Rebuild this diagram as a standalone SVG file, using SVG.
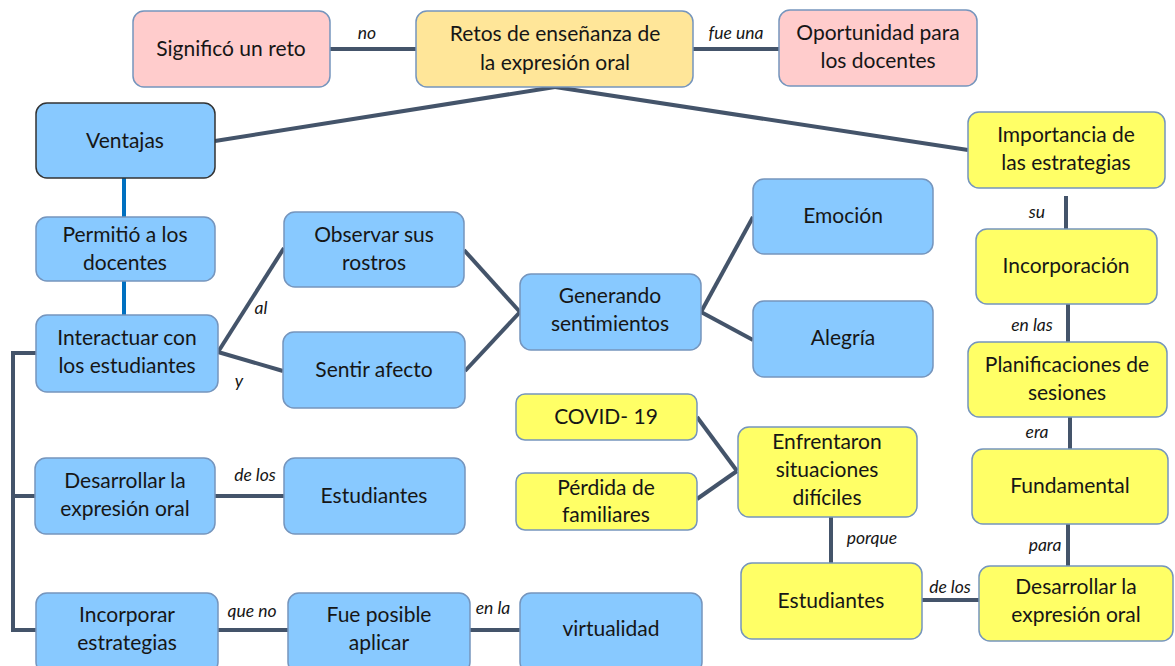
<svg xmlns="http://www.w3.org/2000/svg" width="1175" height="666" viewBox="0 0 1175 666">
<style>
.n rect{stroke:#7595BD;stroke-width:1.5}
.b rect{fill:#88C9FF}
.y rect{fill:#FFFF66}
.o rect{fill:#FFE699}
.p rect{fill:#FFCCCC}
.n text{font-family:Lato,"Liberation Sans",sans-serif;font-size:21px;fill:#161616;text-anchor:middle}
.c line,.c polyline{stroke:#44546A;stroke-width:4;fill:none}
.c .blue{stroke:#0070C0}
.l{font-family:Lato,"Liberation Sans",sans-serif;font-size:17.5px;font-style:italic;fill:#161616;text-anchor:middle}
</style>
<rect width="1175" height="666" fill="#fff"/>
<g class="c" id="connectors">
<line x1="330" y1="49" x2="417" y2="49"/>
<line x1="693" y1="49" x2="779" y2="49"/>
<line x1="555" y1="87" x2="215" y2="141"/>
<line x1="555" y1="87" x2="968" y2="150"/>
<line class="blue" x1="124" y1="178" x2="124" y2="217"/>
<line class="blue" x1="124" y1="281" x2="124" y2="315"/>
<line x1="218" y1="352" x2="284" y2="248"/>
<line x1="218" y1="352" x2="283" y2="371"/>
<line x1="464" y1="250" x2="520" y2="312"/>
<line x1="465" y1="371" x2="520" y2="312"/>
<line x1="701" y1="312" x2="753" y2="217"/>
<line x1="701" y1="312" x2="753" y2="340"/>
<line x1="1066" y1="196" x2="1066" y2="229"/>
<line x1="1068" y1="304" x2="1068" y2="342"/>
<line x1="1070" y1="417" x2="1070" y2="449"/>
<line x1="1068" y1="524" x2="1068" y2="566"/>
<line x1="922" y1="600" x2="979" y2="600"/>
<line x1="831" y1="517" x2="831" y2="563"/>
<line x1="697" y1="417" x2="737" y2="471"/>
<line x1="697" y1="499" x2="737" y2="471"/>
<polyline points="36,353 13,353 13,630 36,630"/>
<line x1="13" y1="496" x2="35" y2="496"/>
<line x1="215" y1="496" x2="284" y2="496"/>
<line x1="218" y1="630" x2="288" y2="630"/>
<line x1="470" y1="630" x2="520" y2="630"/>
<text class="l" x="367" y="39">no</text>
<text class="l" x="736" y="39">fue una</text>
<text class="l" x="261" y="314">al</text>
<text class="l" x="239" y="387">y</text>
<text class="l" x="1037" y="218">su</text>
<text class="l" x="1032" y="331">en las</text>
<text class="l" x="1037" y="438">era</text>
<text class="l" x="1045" y="551">para</text>
<text class="l" x="950" y="593">de los</text>
<text class="l" x="872" y="544">porque</text>
<text class="l" x="255" y="481">de los</text>
<text class="l" x="252" y="617">que no</text>
<text class="l" x="493" y="614">en la</text>
</g>
<g id="significo" class="n p"><rect x="133" y="11" width="197" height="76" rx="11"/><text x="231" y="56">Significó un reto</text></g>
<g id="retos" class="n o"><rect x="416" y="11" width="277" height="76" rx="11"/><text x="555" y="41">Retos de enseñanza de</text><text x="555" y="70">la expresión oral</text></g>
<g id="oportunidad" class="n p"><rect x="779" y="10" width="198" height="76" rx="11"/><text x="878" y="40">Oportunidad para</text><text x="878" y="68">los docentes</text></g>
<g id="ventajas" class="n b"><rect x="36" y="103" width="179" height="75" rx="11" style="stroke:#333"/><text x="125" y="148">Ventajas</text></g>
<g id="importancia" class="n y"><rect x="968" y="112" width="197" height="76" rx="11"/><text x="1066" y="142">Importancia de</text><text x="1066" y="170">las estrategias</text></g>
<g id="permitio" class="n b"><rect x="36" y="217" width="179" height="64" rx="11"/><text x="125" y="242">Permitió a los</text><text x="125" y="270">docentes</text></g>
<g id="interactuar" class="n b"><rect x="36" y="315" width="182" height="77" rx="11"/><text x="127" y="345">Interactuar con</text><text x="127" y="373">los estudiantes</text></g>
<g id="observar" class="n b"><rect x="284" y="212" width="180" height="75" rx="11"/><text x="374" y="242">Observar sus</text><text x="374" y="270">rostros</text></g>
<g id="sentir" class="n b"><rect x="283" y="332" width="182" height="76" rx="11"/><text x="374" y="377">Sentir afecto</text></g>
<g id="generando" class="n b"><rect x="520" y="274" width="181" height="76" rx="11"/><text x="610" y="303">Generando</text><text x="610" y="331">sentimientos</text></g>
<g id="emocion" class="n b"><rect x="753" y="179" width="180" height="75" rx="11"/><text x="843" y="223">Emoción</text></g>
<g id="alegria" class="n b"><rect x="753" y="301" width="180" height="76" rx="11"/><text x="843" y="345">Alegría</text></g>
<g id="incorporacion" class="n y"><rect x="976" y="229" width="181" height="75" rx="11"/><text x="1066" y="273">Incorporación</text></g>
<g id="planificaciones" class="n y"><rect x="968" y="342" width="199" height="75" rx="11"/><text x="1067" y="372">Planificaciones de</text><text x="1067" y="400">sesiones</text></g>
<g id="covid" class="n y"><rect x="516" y="394" width="181" height="46" rx="9"/><text x="606" y="424">COVID- 19</text></g>
<g id="perdida" class="n y"><rect x="516" y="473" width="181" height="57" rx="9"/><text x="606" y="495">Pérdida de</text><text x="606" y="522">familiares</text></g>
<g id="enfrentaron" class="n y"><rect x="738" y="427" width="179" height="90" rx="11"/><text x="827" y="449">Enfrentaron</text><text x="827" y="477">situaciones</text><text x="827" y="505">difíciles</text></g>
<g id="fundamental" class="n y"><rect x="972" y="449" width="196" height="75" rx="11"/><text x="1070" y="493">Fundamental</text></g>
<g id="desarrollar1" class="n b"><rect x="35" y="458" width="180" height="76" rx="11"/><text x="125" y="488">Desarrollar la</text><text x="125" y="516">expresión oral</text></g>
<g id="estudiantes1" class="n b"><rect x="284" y="458" width="181" height="76" rx="11"/><text x="374" y="503">Estudiantes</text></g>
<g id="estudiantes2" class="n y"><rect x="741" y="563" width="181" height="76" rx="11"/><text x="831" y="608">Estudiantes</text></g>
<g id="desarrollar2" class="n y"><rect x="979" y="566" width="194" height="75" rx="11"/><text x="1076" y="594">Desarrollar la</text><text x="1076" y="622">expresión oral</text></g>
<g id="incorporar" class="n b"><rect x="36" y="593" width="182" height="80" rx="11"/><text x="127" y="622">Incorporar</text><text x="127" y="650">estrategias</text></g>
<g id="fue" class="n b"><rect x="288" y="593" width="182" height="80" rx="11"/><text x="379" y="622">Fue posible</text><text x="379" y="650">aplicar</text></g>
<g id="virtualidad" class="n b"><rect x="520" y="593" width="182" height="80" rx="11"/><text x="611" y="636">virtualidad</text></g>
</svg>
